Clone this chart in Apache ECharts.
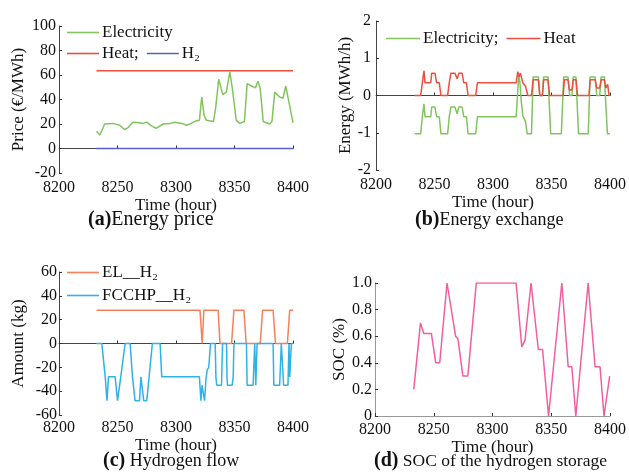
<!DOCTYPE html>
<html>
<head>
<meta charset="utf-8">
<script src="https://cdn.jsdelivr.net/npm/echarts@6/dist/echarts.min.js"></script>
<style>
  html, body { margin: 0; padding: 0; background: #fff; }
  #chart { width: 629px; height: 473px; }
</style>
</head>
<body>
<div id="chart"></div>
<script>
// (a) 能源价格
const elecPrice = [[8232,14],[8235,11],[8239,20],[8246,20.5],[8252,19],[8256,15.5],[8259,17],[8263,21.5],[8269,21],[8272,20.5],[8275,21.5],[8279,18.5],[8283,16.5],[8289,20],[8295,20.5],[8299,21.5],[8305,20.5],[8309,19],[8313,20.5],[8317,22.5],[8320,23],[8322,42],[8324,27],[8326,23],[8332,22],[8334,34],[8336.5,56.5],[8340,44],[8343,46],[8346,62.5],[8348,50],[8351.5,23],[8354.5,20.5],[8358.5,22],[8360.8,53],[8364.5,51],[8368,49.5],[8370,55],[8372,49],[8374.5,22],[8380,20],[8382,22],[8384.4,46],[8388.6,42],[8391.5,41],[8393.8,51],[8395.7,42],[8400,21]]
const heatPrice = [[8232,63.5],[8400,63.5]]
const h2Price = [[8232,0],[8400,0]]

// (b) 能量交换
const heatExchange = [[8233,0],[8238.2,0],[8239.6,0.34],[8241,0.66],[8241.9,0.34],[8246.8,0.34],[8247.6,0.6],[8250.4,0.6],[8251.8,0.34],[8254.1,0.34],[8255.5,0],[8261.2,0],[8262.6,0.34],[8264,0.6],[8267.4,0.6],[8269.4,0.45],[8270.8,0.6],[8273.6,0.6],[8275,0.34],[8277.3,0.34],[8278.7,0],[8285.2,0],[8286.7,0.34],[8319.8,0.34],[8321.2,0.64],[8322.3,0.5],[8323.4,0.6],[8325.5,0.34],[8327.8,0.25],[8329.7,0],[8332.9,0],[8334.3,0.42],[8338.8,0.42],[8340,0],[8342.2,0],[8343.3,0.42],[8347,0.42],[8348.5,0],[8360,0],[8361,0.42],[8364.1,0.42],[8365.3,0.15],[8367.5,0.15],[8368.6,0.42],[8370.9,0.42],[8372.3,0],[8382,0],[8383,0.42],[8387.3,0.42],[8388.7,0.2],[8391.2,0.2],[8392.4,0.42],[8395.2,0.42],[8396.5,0.2],[8398,0.3],[8399.2,0],[8400,0]]
const elecExchange = [[8233,-1.03],[8238.2,-1.03],[8239.6,-0.57],[8241,-0.23],[8241.9,-0.57],[8246.8,-0.57],[8247.6,-0.31],[8250.4,-0.31],[8251.8,-0.57],[8254.1,-0.57],[8255.5,-1.03],[8261.2,-1.03],[8262.6,-0.57],[8264,-0.31],[8267.4,-0.31],[8269.4,-0.49],[8270.8,-0.31],[8273.6,-0.31],[8275,-0.57],[8277.3,-0.57],[8278.7,-1.03],[8285.2,-1.03],[8286.7,-0.57],[8319.8,-0.57],[8322,0.55],[8323,0.35],[8324.1,-0.14],[8325.5,-0.55],[8327.8,-0.7],[8329.2,-1.03],[8332.9,-1.03],[8334.3,0.5],[8338.8,0.5],[8340,0],[8342.2,0],[8343.3,0.5],[8347,0.5],[8349.3,-1.03],[8358.4,-1.03],[8360.4,0.5],[8364.1,0.5],[8365.5,0],[8367.5,0],[8368.6,0.5],[8370.9,0.5],[8373.1,-1.03],[8381.4,-1.03],[8383,0.5],[8387.3,0.5],[8388.7,0],[8391.2,0],[8392.4,0.5],[8395.2,0.5],[8397.8,-1.03],[8400,-1.03]]

// (c) 氢气流量
const elH2 = [[8232,28],[8320.5,28],[8322.4,0],[8323.8,28],[8336,28],[8337.6,0],[8347.5,0],[8349.5,28],[8358,28],[8360,0],[8372,0],[8374,28],[8383,28],[8385,0],[8395.2,0],[8397.2,28],[8400,28]]
const fcchpH2 = [[8232,0],[8236.6,0],[8239.5,-28],[8241,-48],[8242.3,-28],[8248,-28],[8250,-48],[8251.7,-48],[8252.8,-28],[8254.5,-28],[8256.5,0],[8260.8,0],[8262.8,-28],[8265,-48],[8268.8,-48],[8270,-28],[8271.3,-28],[8272.4,-48],[8275,-48],[8277,-28],[8279.8,0],[8286.4,0],[8287.8,-28],[8320,-28],[8321.3,-48],[8322.2,-35],[8323.3,-35],[8324.4,-48],[8325.6,-30],[8326.7,-22],[8328,-20],[8329.5,0],[8333.5,0],[8334.1,-28],[8334.8,-35],[8338.9,-35],[8339.8,0],[8343.2,0],[8343.6,-28],[8344,-35],[8348,-35],[8348.9,-28],[8349.5,0],[8360.2,0],[8360.8,-35],[8365.9,-35],[8367.3,0],[8368.2,-35],[8369.3,0],[8383,0],[8383.6,-35],[8388.6,-35],[8390,0],[8391.5,0],[8392,-35],[8395.7,-35],[8396.6,0],[8397.2,-28],[8398.6,0],[8400,0]]

// (d) 储氢罐 SOC
const socH2 = [[8233,0.2],[8238.7,0.7],[8240.1,0.7],[8241.5,0.62],[8248,0.62],[8251.7,0.4],[8255.1,0.4],[8261.3,1.0],[8263,1.0],[8268.6,0.6],[8270.6,0.58],[8274.8,0.3],[8279,0.3],[8286.2,1.0],[8320.1,1.0],[8324.9,0.52],[8327.7,0.57],[8332.8,1.0],[8334.5,1.0],[8339,0.5],[8342.6,0.5],[8347.7,0],[8348.9,0],[8359,1.0],[8364.4,0.37],[8367.5,0.37],[8370.9,0],[8381.4,1.0],[8387.3,0.37],[8391.5,0.37],[8394.9,0],[8395.8,0],[8399.7,0.3]]

const timeTicks = { min: 8200, max: 8400, interval: 50 }

const FONT = 'Liberation Serif'
const GREEN = '#82c45e'
const RED = '#ef4d3e'
const BLUE = '#5a5fc8'
const ORANGE = '#f5805c'
const CYAN = '#2fb3e6'
const PINK = '#f2609c'

// 通用的坐标轴样式
const makeXAxis = (gridIndex, lineColor, margin, nameGap) => ({
  type: 'value',
  gridIndex,
  ...timeTicks,
  name: 'Time (hour)',
  nameLocation: 'middle',
  nameGap,
  nameTextStyle: { fontFamily: FONT, fontSize: 17, color: '#111' },
  axisLine: { show: true, lineStyle: { color: lineColor, width: 1 } },
  axisTick: { show: true, inside: true, length: 3, lineStyle: { color: '#333' } },
  axisLabel: { fontFamily: FONT, fontSize: 16, color: '#111', margin, formatter: (v) => String(v) },
  splitLine: { show: false },
})

const makeYAxis = (gridIndex, name, min, max, interval, nameGap, lineColor, margin, formatter) => ({
  type: 'value',
  gridIndex,
  min,
  max,
  interval,
  name,
  nameLocation: 'middle',
  nameRotate: 90,
  nameGap,
  nameTextStyle: { fontFamily: FONT, fontSize: 17, color: '#111' },
  axisLine: { show: true, lineStyle: { color: lineColor, width: 1 } },
  axisTick: { show: true, inside: true, length: 3, lineStyle: { color: '#333' } },
  axisLabel: { fontFamily: FONT, fontSize: 16, color: '#111', margin, formatter },
  splitLine: { show: false },
})

const lineSeries = (name, data, color, xAxisIndex) => ({
  name,
  type: 'line',
  xAxisIndex,
  yAxisIndex: xAxisIndex,
  data,
  showSymbol: false,
  symbol: 'none',
  silent: true,
  lineStyle: { color, width: 1.5 },
  itemStyle: { color },
})

// 图例只画一条短线
const legendBase = {
  orient: 'horizontal',
  icon: 'rect',
  itemWidth: 32,
  itemHeight: 1.6,
  itemGap: 8,
  padding: 0,
  selectedMode: false,
  textStyle: { fontFamily: FONT, fontSize: 17, color: '#111', padding: [0, 0, 0, -2] },
}

const captionRich = {
  b: { fontFamily: FONT, fontSize: 20, fontWeight: 'bold', color: '#111' },
  t: { fontFamily: FONT, fontSize: 18, fontWeight: 'normal', color: '#111' },
  s: { fontFamily: FONT, fontSize: 17.5, fontWeight: 'normal', color: '#111' },
  w: { fontFamily: FONT, fontSize: 20, fontWeight: 'normal', color: '#111' },
}

const chart = echarts.init(document.getElementById('chart'), null, { renderer: 'canvas' })

chart.setOption({
  backgroundColor: '#fff',
  animation: false,
  title: [
    { text: '{b|(a)}{w|Energy price}', left: 88, top: 210 },
    { text: '{b|(b)}{t|Energy exchange}', left: 415, top: 210 },
    { text: '{b|(c)}{t| Hydrogen flow}', left: 103, top: 451 },
    { text: '{b|(d)}{s| SOC of the hydrogen storage}', left: 374, top: 451 },
  ].map((t) => ({
    ...t,
    padding: 0,
    textStyle: { fontFamily: FONT, fontWeight: 'normal', rich: captionRich },
  })),
  legend: [
    { ...legendBase, data: ['Electricity'], left: 67, top: 24 },
    {
      ...legendBase,
      data: ['Heat', 'H₂'],
      left: 67,
      top: 45,
      formatter: (n) => (n === 'Heat' ? 'Heat;' : n),
    },
    {
      ...legendBase,
      data: ['Electricity', 'Heat'],
      left: 386,
      top: 30,
      itemWidth: 34,
      formatter: (n) => (n === 'Electricity' ? 'Electricity;' : n),
    },
    { ...legendBase, data: ['EL__H₂'], left: 67, top: 264 },
    { ...legendBase, data: ['FCCHP__H₂'], left: 67, top: 287 },
  ],
  grid: [
    { left: 59, top: 26, width: 234, height: 147 },
    { left: 376, top: 21, width: 235, height: 149 },
    { left: 59, top: 272, width: 234, height: 143 },
    { left: 375, top: 283, width: 236, height: 133 },
  ],
  xAxis: [
    makeXAxis(0, '#444', 7, 20),
    makeXAxis(1, '#444', 7, 20),
    makeXAxis(2, '#444', 5, 12),
    makeXAxis(3, '#999', 6, 12),
  ],
  yAxis: [
    makeYAxis(0, 'Price (€/MWh)', -20, 100, 20, 32, '#444', 3),
    makeYAxis(1, 'Energy (MWh/h)', -2, 2, 1, 22, '#444', 5),
    makeYAxis(2, 'Amount (kg)', -60, 60, 20, 32, '#444', 2),
    makeYAxis(3, 'SOC (%)', 0, 1, 0.2, 26, '#999', 3, (v) => (v === 0 ? '0' : v.toFixed(1))),
  ],
  series: [
    lineSeries('Electricity', elecPrice, GREEN, 0),
    lineSeries('Heat', heatPrice, RED, 0),
    lineSeries('H₂', h2Price, BLUE, 0),
    lineSeries('Electricity', elecExchange, GREEN, 1),
    lineSeries('Heat', heatExchange, RED, 1),
    lineSeries('EL__H₂', elH2, ORANGE, 2),
    lineSeries('FCCHP__H₂', fcchpH2, CYAN, 2),
    lineSeries('SOC', socH2, PINK, 3),
  ],
})
</script>
</body>
</html>
